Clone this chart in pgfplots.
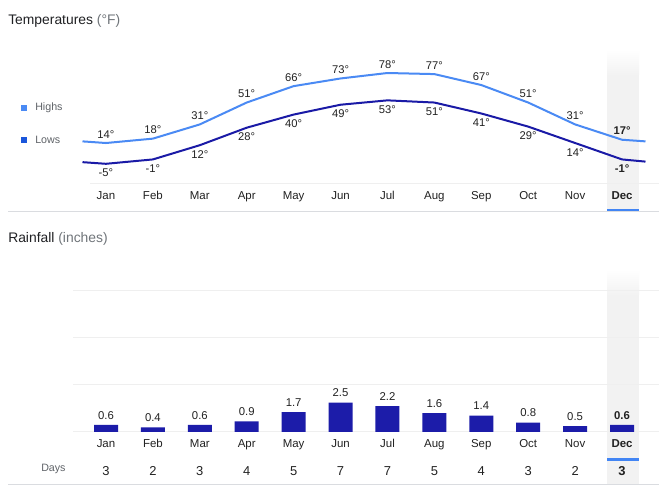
\documentclass[border=0pt]{standalone}
\usepackage{fontspec}
\setmainfont{Liberation Sans}
\usepackage{pgfplots}
\pgfplotsset{compat=1.18}

\definecolor{highs}{HTML}{4A8AF4}
\definecolor{lows}{HTML}{1A1AA6}
\definecolor{lowkey}{HTML}{1A56DB}
\definecolor{barc}{HTML}{1C1CA9}
\definecolor{txt}{HTML}{222222}
\definecolor{ttl}{HTML}{202124}
\definecolor{subtle}{HTML}{70757A}
\definecolor{legtxt}{HTML}{5F6368}
\definecolor{rulec}{HTML}{DADCE0}
\definecolor{gridc}{HTML}{EFEFEF}
\definecolor{band}{HTML}{F2F2F2}
\definecolor{accent}{HTML}{4285F4}

\newcommand{\months}{Jan,Feb,Mar,Apr,May,Jun,Jul,Aug,Sep,Oct,Nov,\textbf{Dec}}

\pgfplotsset{
  panel/.style={
    scale only axis,
    axis line style={draw=none},
    tick style={draw=none},
    xtick={0,...,11},
    xticklabels/.expand once=\months,
    xticklabel style={anchor=base, inner sep=0pt, yshift=-12pt,
      font=\fontsize{8.6}{10}\selectfont, text=txt},
    /pgf/number format/assume math mode=true,
    clip=false,
  },
}

\begin{document}
\begin{tikzpicture}
\path[use as bounding box, fill=white] (0,0) rectangle (501pt,369pt);

% page furniture, in pixel units from the top left
\begin{scope}[x=0.75pt, y=-0.75pt, shift={(0,369pt)}]
  \shade[top color=white, bottom color=band] (607,50) rectangle (639,75);
  \fill[band] (607,75) rectangle (639,211);
  \shade[top color=white, bottom color=band] (607,270) rectangle (639,295);
  \fill[band] (607,295) rectangle (639,484);
  \draw[gridc, line width=0.75pt] (90,183.3) -- (659,183.3);
  \draw[rulec, line width=0.75pt] (8,211.3) -- (659,211.3);
  \draw[rulec, line width=0.75pt] (8,484.3) -- (659,484.3);
  \fill[accent] (607,209) rectangle (639,211.5);
  \fill[accent] (607,458) rectangle (639,460.7);
  \node[anchor=base west, inner sep=0pt, font=\fontsize{10.4}{12}\selectfont, text=ttl]
    at (8,24.3) {Temperatures \textcolor{subtle}{(°F)}};
  \node[anchor=base west, inner sep=0pt, font=\fontsize{10.4}{12}\selectfont, text=ttl]
    at (8,243) {Rainfall \textcolor{subtle}{(inches)}};
  \fill[highs] (20.5,105.5) rectangle (26.5,111.5);
  \fill[lowkey] (20.5,137.5) rectangle (26.5,143.5);
  \node[anchor=base west, inner sep=0pt, font=\fontsize{8}{10}\selectfont, text=legtxt]
    at (35,111) {Highs};
  \node[anchor=base west, inner sep=0pt, font=\fontsize{8}{10}\selectfont, text=legtxt]
    at (35,143.5) {Lows};
  \node[anchor=base west, inner sep=0pt, font=\fontsize{8}{10}\selectfont, text=legtxt]
    at (41,472) {Days};
\end{scope}

% temperatures
\begin{axis}[panel,
  at={(61.875pt,231.375pt)}, anchor=south west,
  width=422.25pt, height=100.92pt,
  xmin=-0.5, xmax=11.5, ymin=-23, ymax=100,
  ytick=\empty,
]
\addplot[highs, line width=1.5pt, mark=none] coordinates {
  (-0.5,15.5) (0,14) (1,18) (2,31) (3,51) (4,66) (5,73) (6,78)
  (7,77) (8,67) (9,51) (10,31) (11,17) (11.5,15.5)};
\addplot[lows, line width=1.5pt, mark=none] coordinates {
  (-0.5,-3.5) (0,-5) (1,-1) (2,12) (3,28) (4,40) (5,49) (6,53)
  (7,51) (8,41) (9,29) (10,14) (11,-1) (11.5,-3)};
\addplot[draw=none, mark=none, nodes near coords, point meta=explicit symbolic,
  nodes near coords style={anchor=south, inner sep=0pt, yshift=3.4pt,
    font=\fontsize{8.4}{10}\selectfont, text=txt}] coordinates {
  (0,14)[14°] (1,18)[18°] (2,31)[31°] (3,51)[51°] (4,66)[66°] (5,73)[73°]
  (6,78)[78°] (7,77)[77°] (8,67)[67°] (9,51)[51°] (10,31)[31°]
  (11,17)[\textbf{17°}]};
\addplot[draw=none, mark=none, nodes near coords, point meta=explicit symbolic,
  nodes near coords style={anchor=north, inner sep=0pt, yshift=-3.7pt,
    font=\fontsize{8.4}{10}\selectfont, text=txt}] coordinates {
  (0,-5)[-5°] (1,-1)[-1°] (2,12)[12°] (3,28)[28°] (4,40)[40°] (5,49)[49°]
  (6,53)[53°] (7,51)[51°] (8,41)[41°] (9,29)[29°] (10,14)[14°]
  (11,-1)[\textbf{-1°}]};
\end{axis}

% rainfall
\begin{axis}[panel,
  at={(54.75pt,45pt)}, anchor=south west,
  width=439.5pt, height=105.75pt,
  xmin=-0.7035, xmax=11.788, ymin=0, ymax=12,
  ytick={0,4,8,12}, yticklabels={},
  ymajorgrids, grid style={gridc, line width=0.75pt},
]
\addplot[ybar, bar width=18pt, fill=barc, draw=none,
  nodes near coords, point meta=explicit symbolic,
  nodes near coords style={anchor=south, inner sep=0pt, yshift=4pt,
    font=\fontsize{8.5}{10}\selectfont, text=txt}] coordinates {
  (0,0.6)[0.6] (1,0.4)[0.4] (2,0.6)[0.6] (3,0.9)[0.9] (4,1.7)[1.7]
  (5,2.5)[2.5] (6,2.2)[2.2] (7,1.6)[1.6] (8,1.4)[1.4] (9,0.8)[0.8]
  (10,0.5)[0.5] (11,0.6)[\textbf{0.6}]};
% rainy days per month
\addplot[draw=none, mark=none, nodes near coords, point meta=explicit symbolic,
  nodes near coords style={anchor=base, inner sep=0pt,
    font=\fontsize{9.7}{11}\selectfont, text=txt}] coordinates {
  (0,-3.72)[3] (1,-3.72)[2] (2,-3.72)[3] (3,-3.72)[4] (4,-3.72)[5]
  (5,-3.72)[7] (6,-3.72)[7] (7,-3.72)[5] (8,-3.72)[4] (9,-3.72)[3]
  (10,-3.72)[2] (11,-3.72)[\textbf{3}]};
\end{axis}
\end{tikzpicture}
\end{document}
